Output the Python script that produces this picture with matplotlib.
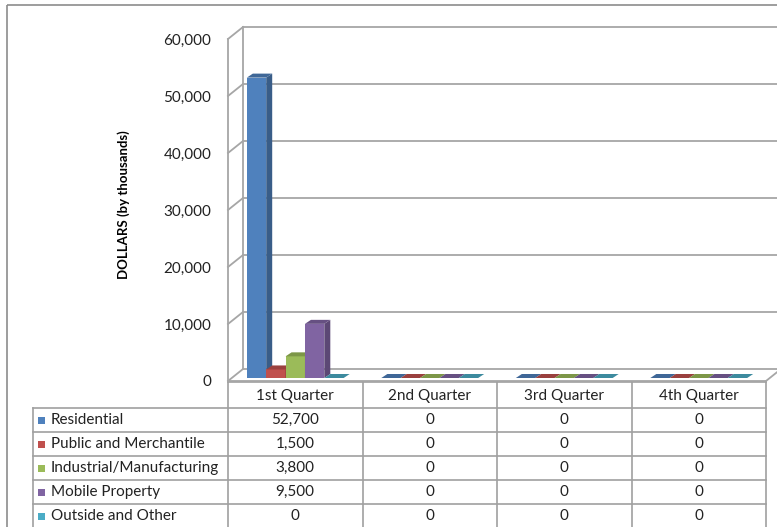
import matplotlib
matplotlib.use("Agg")
import matplotlib.pyplot as plt
from matplotlib.patches import Polygon, Rectangle
import matplotlib.colors as mcolors

plt.rcParams['font.family'] = ['Lato', 'DejaVu Sans']

quarters = ["1st Quarter", "2nd Quarter", "3rd Quarter", "4th Quarter"]
series = ["Residential", "Public and Merchantile", "Industrial/Manufacturing",
          "Mobile Property", "Outside and Other"]
values = [
    [52700, 0, 0, 0],
    [1500, 0, 0, 0],
    [3800, 0, 0, 0],
    [9500, 0, 0, 0],
    [0, 0, 0, 0],
]
colors = ["#4F81BD", "#C0504D", "#9BBB59", "#8064A2", "#4BACC6"]
yticks = [0, 10000, 20000, 30000, 40000, 50000, 60000]

W, H = 777, 527
fig = plt.figure(figsize=(W / 100, H / 100), dpi=100)

# overlay in pixel coordinates for border and table
ov = fig.add_axes([0, 0, 1, 1])
ov.set_xlim(0, W)
ov.set_ylim(H, 0)
ov.axis("off")

# plot area (front plane)
x0p, x1p, y0p, y1p = 228, 766, 381, 39
ax = fig.add_axes([x0p / W, (H - y0p) / H, (x1p - x0p) / W, (y0p - y1p) / H])
ax.set_xlim(0, 4)
ax.set_ylim(0, 60000)
for s in ax.spines.values():
    s.set_visible(False)
ax.set_xticks([])
ax.set_yticks(yticks)
ax.set_yticklabels([f"{v:,}" for v in yticks], fontsize=11, color="#222222")
ax.tick_params(axis="y", length=0, pad=12)
ax.set_ylabel("DOLLARS (by thousands)", fontsize=9.5, fontweight="bold")
ax.yaxis.set_label_coords(-0.182, 0.515)
ax.patch.set_visible(False)

px_x = 4 / (x1p - x0p)
px_y = 60000 / (y0p - y1p)
dx, dy = 15 * px_x, 12 * px_y
gc = "#A6A6A6"
lk = dict(color=gc, lw=1.3, clip_on=False, zorder=1)

# walls and floor
for v in yticks:
    ax.plot([dx, 4 + dx + 40 * px_x], [v + dy, v + dy], **lk)
    ax.plot([0, dx], [v, v + dy], **lk)
ax.plot([0, 0], [0, 60000], **lk)
ax.plot([dx, dx], [dy, 60000 + dy], **lk)
ax.plot([0, 4], [0, 0], **lk)
ax.plot([4, 4 + dx], [0, dy], **lk)

# 3d columns
bw = 0.144
gap = (1 - bw * len(series)) / 2
bdx, bdy = 6 * px_x, 4 * px_y
oy = 3 * px_y
for i in range(len(quarters)):
    for j, name in enumerate(series):
        v = values[j][i]
        c = colors[j]
        xl = i + gap + j * bw
        side = tuple(c * 0.72 for c in mcolors.to_rgb(c))
        top = tuple(c * 0.8 for c in mcolors.to_rgb(c))
        ax.bar(xl, v, width=bw, bottom=oy, align="edge", color=c, lw=0,
               zorder=3, clip_on=False)
        ax.add_patch(Polygon([(xl + bw, oy), (xl + bw + bdx, oy + bdy),
                              (xl + bw + bdx, oy + v + bdy), (xl + bw, oy + v)],
                             closed=True, fc=side, lw=0, zorder=3, clip_on=False))
        ax.add_patch(Polygon([(xl, oy + v), (xl + bw, oy + v),
                              (xl + bw + bdx, oy + v + bdy), (xl + bdx, oy + v + bdy)],
                             closed=True, fc=top, lw=0, zorder=3, clip_on=False))

# outer chart border
ov.add_patch(Rectangle((7, 5), W, H, fill=False, ec="#8C8C8C", lw=1.2))

# data table
tc = "#A0A0A0"
lab_x = 33
col_w = (x1p - x0p) / len(quarters)
head_top, head_bot = 382, 408
row_h = 24
rows_y = [head_bot + k * row_h for k in range(len(series) + 1)]
ov.plot([x0p, x1p], [head_top, head_top], color=tc, lw=1.2)
for k, y in enumerate(rows_y):
    ov.plot([lab_x, x1p], [y, y], color=tc, lw=1.2)
ov.plot([lab_x, lab_x], [head_bot, H], color=tc, lw=1.2)
for i in range(len(quarters) + 1):
    xc = x0p + i * col_w
    ov.plot([xc, xc], [head_top, H], color=tc, lw=1.2)
for i, q in enumerate(quarters):
    ov.text(x0p + (i + 0.5) * col_w, (head_top + head_bot) / 2 + 1, q,
            ha="center", va="center", fontsize=11, color="#222222")
for j, name in enumerate(series):
    yc = rows_y[j] + row_h / 2
    ov.add_patch(Rectangle((38, yc - 3.5), 7, 7, fc=colors[j], lw=0))
    ov.text(51, yc, name, ha="left", va="center", fontsize=11, color="#222222")
    for i in range(len(quarters)):
        ov.text(x0p + (i + 0.5) * col_w, yc, f"{values[j][i]:,}",
                ha="center", va="center", fontsize=11, color="#222222")

fig.savefig("out.png", dpi=100)
